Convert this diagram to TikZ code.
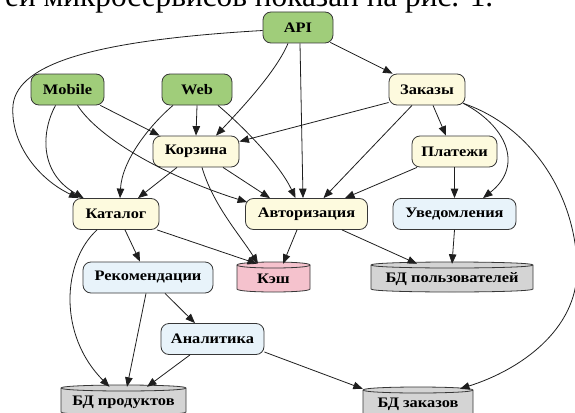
\documentclass[tikz,border=0pt]{standalone}
\usepackage{fontspec}
\setmainfont{Liberation Serif}
\newfontfamily\nodefont[FakeStretch=1.13]{Liberation Serif}
\newfontfamily\topfont{Liberation Serif}
\usetikzlibrary{arrows.meta}
\definecolor{cgreen}{RGB}{160,205,122}
\definecolor{cyellow}{RGB}{253,250,222}
\definecolor{cblue}{RGB}{232,243,250}
\definecolor{cpink}{RGB}{245,194,205}
\definecolor{cgray}{RGB}{212,212,212}
\definecolor{cborder}{RGB}{55,55,55}
\definecolor{cline}{RGB}{30,30,30}
\newcommand\cyl[7]{% name, cx, cy, w, h, fill, text
  \path[draw=cborder,line width=0.8pt,fill=#6]
    ({#2-#4/2},{#3-#5/2+3}) -- ({#2-#4/2},{#3+#5/2-3})
    .. controls ({#2-#4/2},{#3+#5/2+1}) and ({#2+#4/2},{#3+#5/2+1}) .. ({#2+#4/2},{#3+#5/2-3})
    -- ({#2+#4/2},{#3-#5/2+3})
    .. controls ({#2+#4/2},{#3-#5/2-1}) and ({#2-#4/2},{#3-#5/2-1}) .. ({#2-#4/2},{#3-#5/2+3}) -- cycle;
  \draw[draw=cborder,line width=0.8pt]
    ({#2-#4/2},{#3-#5/2+3}) .. controls ({#2-#4/2},{#3-#5/2+7}) and ({#2+#4/2},{#3-#5/2+7}) .. ({#2+#4/2},{#3-#5/2+3});
  \node[dbtext,minimum width=#4,minimum height=#5] (#1) at (#2,{#3+2}) {#7};
}
\begin{document}
\begin{tikzpicture}[x=1pt,y=-1pt,
  boxbase/.style={draw=cborder,line width=0.8pt,rounded corners=8pt,minimum height=31pt,inner sep=0pt,
    font=\nodefont\bfseries\fontsize{14.5}{15}\selectfont},
  gbox/.style={boxbase,fill=cgreen},
  ybox/.style={boxbase,fill=cyellow},
  bbox/.style={boxbase,fill=cblue},
  dbtext/.style={inner sep=0pt,font=\nodefont\bfseries\fontsize{14.5}{15}\selectfont},
  arr/.style={draw=cline,line width=0.8pt,-{Triangle[length=9.5pt,width=7.5pt]}}
]
\useasboundingbox (0,0) rectangle (575,412);
\clip (0,0) rectangle (575,412);
\node[anchor=base west,inner sep=0pt,font=\topfont\fontsize{26}{28}\selectfont] (cap) at (5,6.5) {\resizebox{488pt}{!}{ей микросервисов показан на рис. 1.}};

\node[gbox,minimum width=70] (api) at (298,27.5) {API};
\node[gbox,minimum width=73] (mob) at (67.5,89.5) {Mobile};
\node[gbox,minimum width=70] (web) at (197,89.5) {Web};
\node[ybox,minimum width=76] (zak) at (427,89.5) {Заказы};
\node[ybox,minimum width=86] (kor) at (196,151.5) {Корзина};
\node[ybox,minimum width=85] (pla) at (454.5,151.5) {Платежи};
\node[ybox,minimum width=86] (kat) at (116,214) {Каталог};
\node[ybox,minimum width=122] (avt) at (306.5,214) {Авторизация};
\node[bbox,minimum width=123] (uve) at (454.5,214) {Уведомления};
\node[bbox,minimum width=130] (rek) at (148,277.5) {Рекомендации};
\node[bbox,minimum width=103] (ana) at (212.5,339) {Аналитика};
\cyl{kesh}{273.5}{277}{73}{30}{cpink}{Кэш}
\cyl{bdp}{452}{277}{162}{30}{cgray}{БД пользователей}
\cyl{bdpr}{123.5}{400}{125}{30}{cgray}{БД продуктов}
\cyl{bdz}{418}{402}{110}{30}{cgray}{БД заказов}

\draw[arr] ([xshift=-3pt,yshift=1pt]api.south east) -- ([xshift=4pt]zak.north west);
\draw[arr] ([xshift=2pt]api.south) -- ([xshift=-3.5pt]avt.north);
\draw[arr] ([xshift=-10pt]api.south) .. controls (276,72) and (240,110) .. ([xshift=20pt]kor.north);
\draw[arr] ([yshift=-3pt]api.west) .. controls (100,40) and (18,62) .. (13,105) .. controls (10,145) and (40,180) .. ([xshift=6pt]kat.north west);
\draw[arr] ([xshift=-12pt]mob.south) .. controls (42,130) and (38,172) .. ([xshift=11pt]kat.north west);
\draw[arr] ([xshift=-4pt]mob.south east) -- ([xshift=7pt]kor.north west);
\draw[arr] ([xshift=10pt]mob.south) .. controls (100,140) and (170,178) .. ([xshift=2pt,yshift=-4pt]avt.north west);
\draw[arr] (web.south) -- (kor.north);
\draw[arr] ([xshift=-24pt]web.south) .. controls (150,125) and (122,160) .. ([xshift=4pt]kat.north);
\draw[arr] ([xshift=21pt]web.south) .. controls (245,128) and (280,165) .. ([xshift=-11pt]avt.north);
\draw[arr] ([yshift=-13pt]zak.west) -- ([yshift=10pt]kor.east);
\draw[arr] ([xshift=-15pt]zak.south) -- ([xshift=17pt]avt.north);
\draw[arr] ([xshift=6pt]zak.south) -- ([xshift=-8.5pt]pla.north);
\draw[arr] ([xshift=-2pt,yshift=2pt]zak.south east) .. controls (505,125) and (525,165) .. ([xshift=28.5pt]uve.north);
\draw[arr] ([xshift=-2pt,yshift=2pt]zak.south east) .. controls (535,128) and (577,200) .. (577,270) .. controls (577,330) and (520,370) .. ([xshift=42pt]bdz.north);
\draw[arr] ([xshift=-19pt]kor.south) -- ([xshift=22pt]kat.north);
\draw[arr] ([xshift=6pt]kor.south) .. controls (213,205) and (240,235) .. ([xshift=-15.5pt]kesh.north);
\draw[arr] ([xshift=27pt]kor.south) -- ([xshift=-36.5pt]avt.north);
\draw[arr] ([xshift=-37.5pt]pla.south) -- ([xshift=38.5pt]avt.north);
\draw[arr] (pla.south) -- (uve.north);
\draw[arr] ([xshift=9pt]kat.south) -- ([xshift=-8pt]rek.north);
\draw[arr] ([xshift=41pt]kat.south) -- ([xshift=-16.5pt]kesh.north);
\draw[arr] ([xshift=-19pt]kat.south) .. controls (62,262) and (58,335) .. ([xshift=-14pt]bdpr.north);
\draw[arr] ([xshift=-9.5pt]avt.south) -- ([xshift=9.5pt]kesh.north);
\draw[arr] ([xshift=35.5pt]avt.south) -- ([xshift=-35pt]bdp.north);
\draw[arr] (uve.south) -- (bdp.north);
\draw[arr] ([xshift=17pt]rek.south) -- ([xshift=-17.5pt]ana.north);
\draw[arr] ([xshift=-2pt]rek.south) -- ([xshift=3.5pt]bdpr.north);
\draw[arr] ([xshift=-22.5pt]ana.south) -- ([xshift=23.5pt]bdpr.north);
\draw[arr] ([yshift=-13pt]ana.east) -- (bdz.north west);
\end{tikzpicture}
\end{document}
